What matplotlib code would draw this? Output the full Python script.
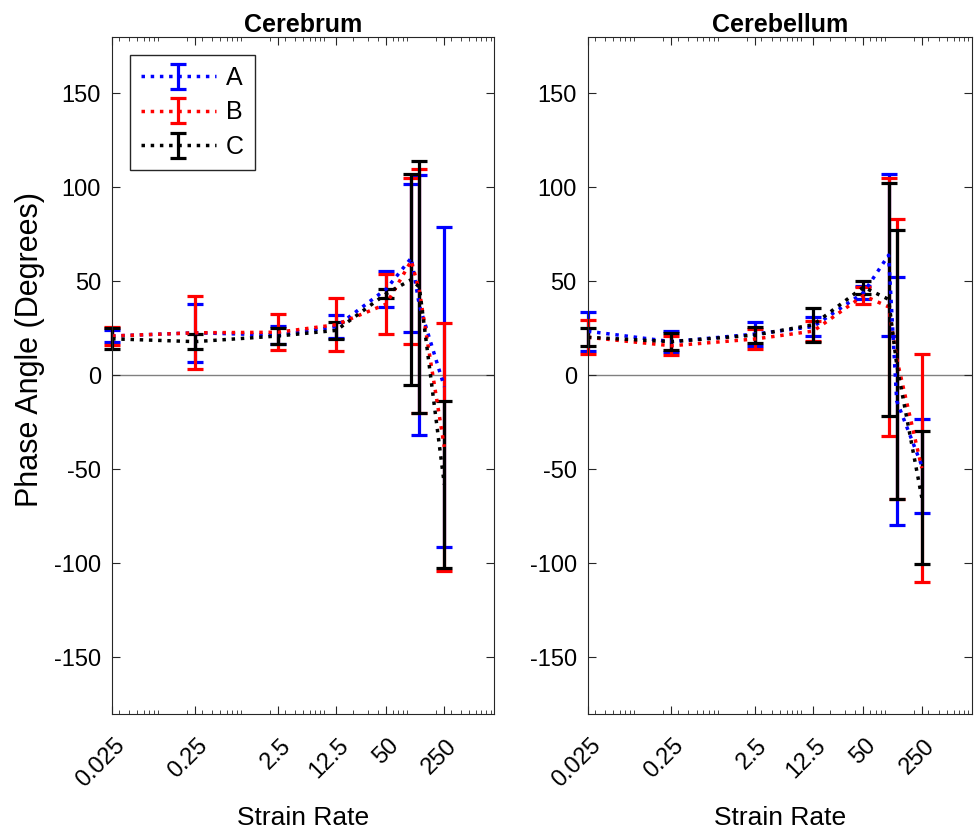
import numpy as np
import matplotlib.pyplot as plt
import matplotlib.transforms as mtransforms

plt.rcParams['font.family'] = ['Liberation Sans', 'DejaVu Sans']
plt.rcParams['axes.unicode_minus'] = False

strain = [0.025, 0.25, 2.5, 12.5, 50, 100, 125, 250]
tick_vals = [0.025, 0.25, 2.5, 12.5, 50, 250]
tick_labels = ['0.025', '0.25', '2.5', '12.5', '50', '250']
names = ['A', 'B', 'C']
titles = ['Cerebrum', 'Cerebellum']

# Cerebrum
cbr_A = [21, 22.7, 21.5, 26, 46, 62.5, 37.4, -6]
cbr_A_err = [3, 15.5, 5, 6, 9.5, 39.5, 69, 85]
cbr_B = [21, 22.7, 23, 27, 38, 61, 45, -38]
cbr_B_err = [5, 19.5, 9.5, 14, 16, 44, 65, 66]
cbr_C = [19.5, 18, 21, 24, 43.5, 51, 47, -58]
cbr_C_err = [5.5, 4, 4, 4.5, 2.5, 56, 67, 44.5]

# Cerebellum
cbl_A = [23.5, 18, 22, 26, 44, 64, -13.5, -48]
cbl_A_err = [10.5, 5.5, 6.5, 5, 3.5, 43, 66, 25]
cbl_B = [20.3, 15.8, 19.4, 23.6, 42.5, 36.5, 8.9, -49.3]
cbl_B_err = [9, 5, 5.2, 5.3, 4.5, 68.5, 74.5, 60.5]
cbl_C = [20.3, 18, 21.5, 27, 47, 40.5, 5.8, -65]
cbl_C_err = [4.7, 4.7, 4.2, 9, 3.5, 62, 71.5, 35.5]

data = [[(cbr_A, cbr_A_err), (cbr_B, cbr_B_err), (cbr_C, cbr_C_err)],
        [(cbl_A, cbl_A_err), (cbl_B, cbl_B_err), (cbl_C, cbl_C_err)]]
colors = ['#0000ff', '#ff0000', '#000000']

fig = plt.figure(figsize=(9.75, 8.33), dpi=100)
axes = [fig.add_axes([0.115, 0.143, 0.392, 0.8125]),
        fig.add_axes([0.603, 0.143, 0.394, 0.8125])]

shift = mtransforms.ScaledTranslation(0.17, 0, fig.dpi_scale_trans)

for k, ax in enumerate(axes):
    ax.axhline(0, color='#808080', lw=1, zorder=0)
    for j in range(3):
        y, e = data[k][j]
        eb = ax.errorbar(strain, y, yerr=e, color=colors[j], ls=':', lw=2.5,
                         elinewidth=2.3, capsize=5.5, capthick=2.3, label=names[j])
        for art in eb.lines[1]:
            art.set_clip_on(False)
        for art in eb.lines[2]:
            art.set_clip_on(False)
    ax.set_xscale('log')
    ax.set_xlim(0.025, 1000)
    ax.set_ylim(-180, 180)
    ax.set_yticks([-150, -100, -50, 0, 50, 100, 150])
    ax.set_xticks(tick_vals)
    ax.set_xticklabels(tick_labels, rotation=45, ha='right', va='top')
    ax.tick_params(which='both', direction='in', top=True, right=True,
                   labelsize=17, color='#262626')
    ax.tick_params(which='major', length=6)
    ax.tick_params(which='minor', length=3)
    ax.tick_params(axis='x', pad=15)
    ax.tick_params(axis='y', pad=8)
    for s in ax.spines.values():
        s.set_color('#262626')
    ax.set_title(titles[k], fontsize=18, fontweight='bold', pad=4)
    ax.set_xlabel('Strain Rate', fontsize=19, labelpad=10)
    # move rotated tick labels a bit right, like the original
    for lab in ax.get_xticklabels():
        lab.set_transform(lab.get_transform() + shift)

axes[0].set_ylabel('Phase Angle (Degrees)', fontsize=22)
axes[0].yaxis.set_label_coords(-0.175, 0.538)
leg = axes[0].legend(loc='upper left', fontsize=18, fancybox=False,
                     edgecolor='#262626', framealpha=1, handlelength=3.0,
                     handletextpad=0.4, borderpad=0.45, labelspacing=0.42,
                     borderaxespad=0.7)
leg.get_frame().set_linewidth(1)

fig.savefig('out.png', dpi=100)
